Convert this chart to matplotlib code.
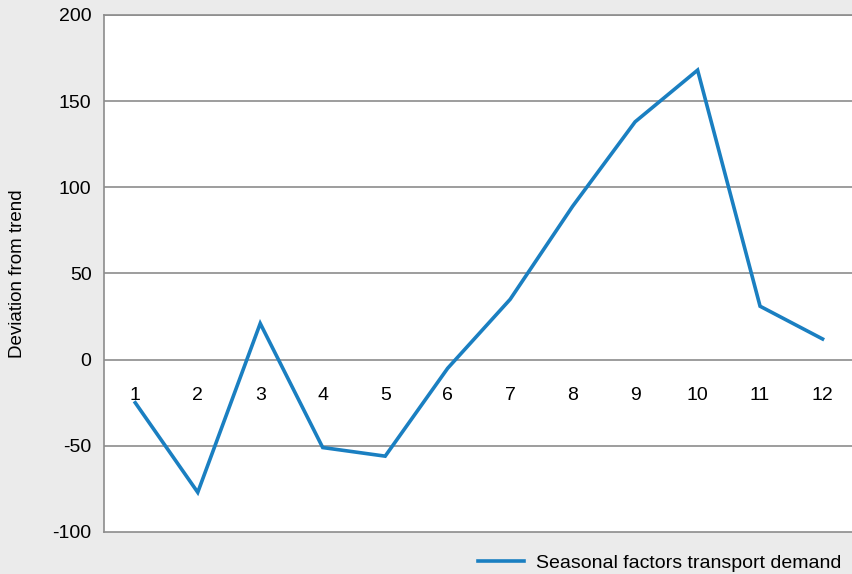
import matplotlib.pyplot as plt

plt.rcParams['font.family'] = ['Liberation Sans', 'DejaVu Sans']

months = [1, 2, 3, 4, 5, 6, 7, 8, 9, 10, 11, 12]
deviation = [-25, -77, 21, -51, -56, -5, 35, 89, 138, 168, 31, 12]
yticks = [-100, -50, 0, 50, 100, 150, 200]

bg = '#ebebeb'
grid = '#8c8c8c'
blue = '#1a7fc1'

fig = plt.figure(figsize=(8.52, 5.74), dpi=100, facecolor=bg)
ax = fig.add_axes([0.1221, 0.0732, 0.88, 0.9007])
ax.set_facecolor('white')

ax.plot(months, deviation, color=blue, lw=2.6, solid_joinstyle='miter',
        label='Seasonal factors transport demand')

ax.set_xlim(0.5, 12.5)
ax.set_ylim(-100, 200)
ax.set_yticks(yticks)
ax.set_yticklabels([str(t) for t in yticks])
ax.set_xticks([])
ax.tick_params(axis='y', length=0, pad=9, labelsize=14)
for t in yticks[1:]:
    ax.axhline(t, color=grid, lw=1.2, zorder=0)

# category labels sit just under the zero line
for m in months:
    ax.annotate(str(m), (m, 0), xytext=(0, -26), textcoords='offset points',
                ha='center', va='center', fontsize=14)

for side in ['left', 'bottom', 'top']:
    ax.spines[side].set_color(grid)
    ax.spines[side].set_linewidth(1.2)
ax.spines['right'].set_visible(False)

ax.set_ylabel('Deviation from trend', fontsize=13.5)
ax.yaxis.set_label_coords(-0.104, 0.5)

ax.legend(loc='center', bbox_to_anchor=(0.741, -0.06), frameon=False,
          fontsize=14, handlelength=2.4, handletextpad=0.6)

fig.savefig('out.png', dpi=100, facecolor=bg)
